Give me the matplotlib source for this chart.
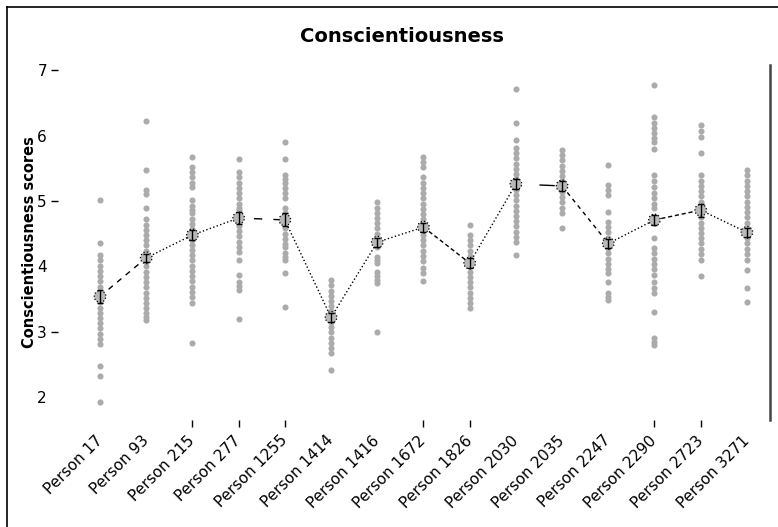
import matplotlib
matplotlib.use("Agg")
import matplotlib.pyplot as plt
from matplotlib.lines import Line2D

persons = ["Person 17", "Person 93", "Person 215", "Person 277", "Person 1255",
           "Person 1414", "Person 1416", "Person 1672", "Person 1826", "Person 2030",
           "Person 2035", "Person 2247", "Person 2290", "Person 2723", "Person 3271"]

p17 = [5.01, 4.36, 4.17, 4.09, 4.01, 3.93, 3.85, 3.77, 3.69, 3.61, 3.53, 3.45, 3.37, 3.29,
       3.21, 3.13, 3.05, 2.97, 2.89, 2.81, 2.48, 2.32, 1.92]
p93 = [6.22, 5.47, 5.17, 5.11, 4.89, 4.72, 4.64, 4.56, 4.48, 4.40, 4.32, 4.24, 4.16, 4.08,
       4.00, 3.92, 3.84, 3.76, 3.68, 3.60, 3.52, 3.44, 3.36, 3.28, 3.22, 3.18]
p215 = [5.67, 5.52, 5.44, 5.36, 5.28, 5.21, 5.01, 4.93, 4.86, 4.81, 4.73, 4.65, 4.57, 4.49,
        4.41, 4.33, 4.25, 4.17, 4.09, 4.01, 3.93, 3.85, 3.77, 3.69, 3.61, 3.53, 3.44, 2.83]
p277 = [5.64, 5.44, 5.36, 5.28, 5.20, 5.12, 5.04, 4.96, 4.90, 4.86, 4.78, 4.70, 4.62, 4.54,
        4.46, 4.38, 4.30, 4.22, 4.09, 3.87, 3.76, 3.70, 3.64, 3.19]
p1255 = [5.90, 5.64, 5.39, 5.33, 5.27, 5.20, 5.12, 5.04, 4.90, 4.82, 4.74, 4.66, 4.58, 4.50,
         4.42, 4.34, 4.29, 4.20, 4.14, 4.09, 3.90, 3.38]
p1414 = [3.79, 3.71, 3.63, 3.55, 3.47, 3.39, 3.31, 3.23, 3.15, 3.07, 2.99, 2.91, 2.83, 2.75,
         2.67, 2.41]
p1416 = [4.98, 4.90, 4.82, 4.74, 4.66, 4.58, 4.50, 4.42, 4.34, 4.29, 4.14, 4.09, 4.05, 3.91,
         3.85, 3.79, 3.74, 2.99]
p1672 = [5.67, 5.60, 5.52, 5.36, 5.28, 5.20, 5.12, 5.04, 4.96, 4.88, 4.80, 4.72, 4.64, 4.56,
         4.48, 4.40, 4.32, 4.24, 4.16, 4.08, 3.98, 3.90, 3.77]
p1826 = [4.63, 4.48, 4.40, 4.32, 4.24, 4.16, 4.08, 4.00, 3.92, 3.84, 3.76, 3.68, 3.60, 3.52,
         3.44, 3.36]
p2030 = [6.72, 6.20, 5.93, 5.81, 5.73, 5.65, 5.57, 5.49, 5.41, 5.33, 5.25, 5.17, 5.09, 5.01,
         4.93, 4.85, 4.77, 4.69, 4.61, 4.53, 4.45, 4.37, 4.17]
p2035 = [5.78, 5.70, 5.62, 5.54, 5.46, 5.38, 5.30, 5.22, 5.14, 5.06, 4.98, 4.90, 4.81, 4.58]
p2247 = [5.55, 5.24, 5.17, 5.09, 4.83, 4.68, 4.60, 4.52, 4.44, 4.36, 4.28, 4.20, 4.12, 4.04,
         3.96, 3.90, 3.76, 3.59, 3.53, 3.48]
p2290 = [6.77, 6.28, 6.20, 6.12, 6.04, 5.96, 5.90, 5.79, 5.39, 5.30, 5.21, 5.12, 5.04, 4.96,
         4.90, 4.75, 4.66, 4.43, 4.28, 4.20, 4.12, 4.04, 3.96, 3.87, 3.76, 3.67, 3.59, 3.30,
         2.90, 2.85, 2.80]
p2723 = [6.16, 6.07, 5.98, 5.73, 5.39, 5.31, 5.23, 5.15, 5.07, 4.99, 4.91, 4.83, 4.75, 4.67,
         4.59, 4.51, 4.43, 4.35, 4.27, 4.19, 4.09, 3.85]
p3271 = [5.47, 5.39, 5.31, 5.23, 5.15, 5.07, 4.99, 4.91, 4.83, 4.75, 4.67, 4.59, 4.51, 4.43,
         4.35, 4.27, 4.19, 4.09, 3.94, 3.67, 3.45]

scores = [p17, p93, p215, p277, p1255, p1414, p1416, p1672, p1826, p2030,
          p2035, p2247, p2290, p2723, p3271]

means = [3.54, 4.13, 4.48, 4.74, 4.71, 3.22, 4.37, 4.60, 4.05, 5.26,
         5.23, 4.35, 4.71, 4.86, 4.52]
sems = [0.10, 0.06, 0.07, 0.09, 0.10, 0.07, 0.07, 0.07, 0.08, 0.07,
        0.07, 0.07, 0.08, 0.10, 0.07]

segment_styles = [(0, (4, 4)), ":", ":", (3, (6, 8)), ":", ":", ":", (0, (3, 2)), ":",
                  (34, (11, 40)), (0, (3, 3)), ":", (0, (3, 2)), ":"]

ticked = ["Person 215", "Person 277", "Person 1255", "Person 1672", "Person 1826",
          "Person 2290", "Person 2723"]
yticks_marked = [3, 5, 7]
yticks_plain = [2, 4, 6]

fig = plt.figure(figsize=(7.78, 5.27), dpi=100)
ax = fig.add_axes([58 / 778, 1 - 420 / 527, (770 - 58) / 778, (420 - 65) / 527])

gray = "#ababab"
for i, vals in enumerate(scores):
    ax.plot([i] * len(vals), vals, "o", color=gray, markersize=4.4, markeredgewidth=0,
            zorder=2)

for i in range(len(means) - 1):
    ax.plot([i, i + 1], [means[i], means[i + 1]], color="black", lw=1.0,
            linestyle=segment_styles[i], zorder=3)

xs = list(range(len(means)))
ax.scatter(xs, means, s=70, facecolor="#b8b8b8", edgecolor="black", linewidths=0.9,
           linestyles=":", zorder=4)
ax.errorbar(xs, means, yerr=sems, fmt="none", ecolor="black", elinewidth=1.0,
            capsize=2.5, capthick=1.0, zorder=5)

ax.set_xlim(-0.91, 14.5)
ax.set_ylim(1.65, 7.08)

for s in ["top", "left", "bottom"]:
    ax.spines[s].set_visible(False)
ax.spines["right"].set_color("#444444")
ax.spines["right"].set_linewidth(1.8)

major_x = [persons.index(p) for p in ticked]
minor_x = [i for i in range(len(persons)) if persons[i] not in ticked]
ax.set_xticks(major_x, labels=[persons[i] for i in major_x])
ax.set_xticks(minor_x, labels=[persons[i] for i in minor_x], minor=True)
ax.tick_params(axis="x", which="major", length=5, width=1, pad=8, labelsize=11)
ax.tick_params(axis="x", which="minor", length=0, pad=13, labelsize=11)
for lab in ax.get_xticklabels(which="both"):
    lab.set_rotation(45)
    lab.set_ha("right")
    lab.set_va("center")
    lab.set_rotation_mode("anchor")

ax.set_yticks(yticks_marked, labels=[str(v) for v in yticks_marked])
ax.set_yticks(yticks_plain, labels=[str(v) for v in yticks_plain], minor=True)
ax.tick_params(axis="y", which="major", length=5, width=1, pad=3, labelsize=11)
ax.tick_params(axis="y", which="minor", length=0, pad=8, labelsize=11)

ax.set_ylabel("Conscientiousness scores", fontsize=10.5, fontweight="bold")
ax.yaxis.set_label_coords((30 - 58) / 712, 0.5)
ax.yaxis.label.set_va("center")

fig.text(402 / 778, 1 - 36 / 527, "Conscientiousness", ha="center", va="center",
         fontsize=14, fontweight="bold")

fig.add_artist(Line2D([7 / 778, 7 / 778], [0, 1 - 7 / 527], color="black", lw=1.2,
                      transform=fig.transFigure))
fig.add_artist(Line2D([7 / 778, 1], [1 - 7 / 527, 1 - 7 / 527], color="black", lw=1.2,
                      transform=fig.transFigure))

fig.savefig("out.png", dpi=100)
